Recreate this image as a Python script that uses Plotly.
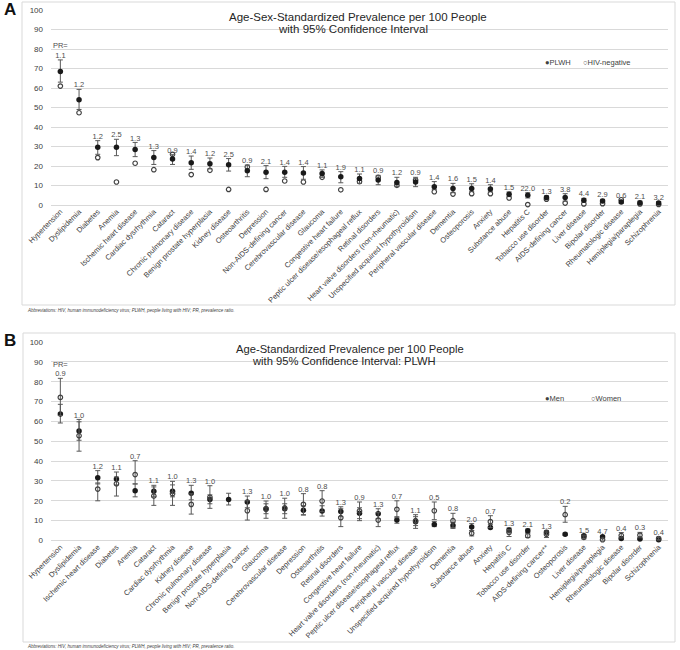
import plotly.graph_objects as go

# ---------------- Panel A data ----------------
catsA = ["Hypertension", "Dyslipidemia", "Diabetes", "Anemia", "Ischemic heart disease",
         "Cardiac dysrhythmia", "Cataract", "Chronic pulmonary disease",
         "Benign prostate hyperplasia", "Kidney disease", "Osteoarthritis", "Depression",
         "Non-AIDS-defining cancer", "Cerebrovascular disease", "Glaucoma",
         "Congestive heart failure", "Peptic ulcer disease/esophageal reflux",
         "Retinal disorders", "Heart valve disorders (non-rheumatic)",
         "Unspecified acquired hypothyroidism", "Peripheral vascular disease", "Dementia",
         "Osteoporosis", "Anxiety", "Substance abuse", "Hepatitis C", "Tobacco use disorder",
         "AIDS-defining cancer", "Liver disease", "Bipolar disorder", "Rheumatologic disease",
         "Hemiplegia/paraplegia", "Schizophrenia"]
plwhA = [68.5, 54.0, 29.6, 29.6, 28.4, 24.3, 23.6, 21.7, 21.2, 20.7, 17.6, 16.8, 16.8, 16.4,
         16.1, 14.5, 13.6, 12.8, 11.6, 11.8, 9.4, 8.5, 8.5, 8.2, 5.5, 5.0, 3.8, 3.8, 2.4, 2.0,
         1.6, 1.2, 1.0]
negA = [61.0, 47.3, 24.3, 11.8, 21.4, 18.1, 26.0, 15.6, 17.8, 8.0, 19.5, 8.0, 12.3, 11.8,
        14.2, 7.8, 12.0, 14.2, 10.1, 12.8, 6.8, 5.6, 5.8, 5.8, 3.6, 0.23, 3.0, 1.0, 0.55, 0.7,
        2.7, 0.57, 0.31]
loA = [63.0, 49.0, 26.0, 25.3, 24.8, 20.8, 20.8, 18.3, 18.5, 17.4, 14.5, 13.5, 14.2, 13.2,
       14.2, 11.4, 11.1, 10.4, 9.4, 9.4, 8.0, 6.3, 7.0, 6.8, 4.3, 3.6, 3.0, 2.0, 1.5, 1.2,
       0.9, 0.5, 0.4]
hiA = [74.4, 59.3, 33.0, 33.7, 32.1, 27.9, 25.8, 25.1, 24.1, 23.8, 20.5, 20.2, 19.8, 19.7,
       18.0, 17.1, 15.9, 15.2, 14.2, 14.2, 12.0, 11.1, 10.9, 10.4, 6.7, 6.3, 4.7, 5.8, 3.4,
       2.9, 2.4, 2.0, 1.7]
prA = ["PR=<br>1.1", "1.2", "1.2", "2.5", "1.3", "1.3", "0.9", "1.4", "1.2", "2.5", "0.9",
       "2.1", "1.4", "1.4", "1.1", "1.9", "1.1", "0.9", "1.2", "0.9", "1.4", "1.6", "1.5",
       "1.4", "1.5", "22.0", "1.3", "3.8", "4.4", "2.9", "0.6", "2.1", "3.2"]

# ---------------- Panel B data ----------------
catsB = ["Hypertension", "Dyslipidemia", "Ischemic heart disease", "Diabetes", "Anemia",
         "Cataract", "Cardiac dysrhythmia", "Kidney disease", "Chronic pulmonary disease",
         "Benign prostate hyperplasia", "Non-AIDS-defining cancer", "Glaucoma",
         "Cerebrovascular disease", "Depression", "Osteoarthritis", "Retinal disorders",
         "Congestive heart failure", "Heart valve disorders (non-rheumatic)",
         "Peptic ulcer disease/esophageal reflux", "Peripheral vascular disease",
         "Unspecified acquired hypothyroidism", "Dementia", "Substance abuse", "Anxiety",
         "Hepatitis C", "Tobacco use disorder", "AIDS-defining cancer**", "Osteoporosis",
         "Liver disease", "Hemiplegia/paraplegia", "Rheumatologic disease",
         "Bipolar disorder", "Schizophrenia"]
menB = [63.7, 55.2, 31.6, 31.0, 25.1, 24.8, 24.8, 23.8, 20.7, 20.7, 19.4, 16.0, 16.0, 15.2,
        14.9, 14.6, 13.7, 13.5, 10.3, 9.5, 8.1, 7.5, 6.8, 6.5, 5.3, 4.9, 4.1, 3.1, 2.4, 1.9,
        1.0, 0.8, 0.4]
womenB = [72.1, 52.8, 25.9, 28.6, 33.2, 22.4, 23.6, 18.2, 21.8, None, 15.0, 15.8, 16.4, 18.2,
          19.9, 11.5, 14.9, 10.3, 15.7, 10.0, 15.0, 10.0, 3.6, 9.5, 4.1, 2.4, 3.2, 13.0, 1.6,
          0.4, 2.5, 2.7, 1.0]
menLo = [59.2, 50.5, 28.5, 28.0, 22.0, 22.0, 22.0, 20.5, 18.5, 17.9, 16.5, 13.5, 13.5, 12.8,
         12.3, 12.0, 11.0, 11.0, 8.7, 7.5, 7.0, 6.1, 5.0, 6.0, 4.2, 4.0, 3.4, 2.5, 2.0, 1.5,
         0.7, 0.5, 0.2]
menHi = [68.6, 59.8, 35.2, 34.5, 28.5, 27.8, 28.0, 27.8, 23.0, 23.8, 22.4, 18.5, 18.5, 17.5,
         17.5, 17.0, 16.5, 16.0, 12.0, 12.0, 9.5, 9.0, 8.5, 8.0, 6.3, 5.8, 4.9, 3.7, 2.9, 2.3,
         1.3, 1.1, 0.6]
womenLo = [63.0, 45.0, 20.0, 22.4, 28.5, 17.7, 17.7, 13.3, 16.2, None, 10.3, 11.2, 11.2, 13.0,
           14.5, 7.0, 10.0, 7.0, 11.5, 6.1, 10.5, 6.5, 2.3, 6.5, 2.0, 1.5, 1.5, 9.2, 0.8, 0.0,
           1.3, 1.4, 0.4]
womenHi = [81.7, 61.0, 29.0, 32.0, 40.2, 27.0, 29.8, 23.5, 27.6, None, 20.0, 19.9, 21.3, 23.6,
           25.1, 16.0, 19.4, 14.0, 20.0, 13.0, 19.4, 13.7, 5.0, 12.5, 5.5, 3.5, 4.8, 17.2, 2.6,
           1.0, 4.0, 4.1, 1.7]
prB = ["PR=<br>0.9", "1.0", "1.2", "1.1", "0.7", "1.1", "1.0", "1.3", "1.0", "", "1.3", "1.0",
       "1.0", "0.8", "0.8", "1.3", "0.9", "1.3", "0.7", "1.1", "0.5", "0.8", "2.0", "0.7",
       "1.3", "2.1", "1.3", "0.2", "1.5", "4.7", "0.4", "0.3", "0.4"]

FONT = "Liberation Sans, Arial, sans-serif"
ERRC = "#595959"
GRID = "#d9d9d9"
TXT = "#4d4d4d"


def err(vals, lo, hi):
    plus = [None if v is None else h - v for v, h in zip(vals, hi)]
    minus = [None if v is None else v - l for v, l in zip(vals, lo)]
    return dict(type="data", symmetric=False, array=plus, arrayminus=minus,
                color=ERRC, thickness=1, width=2.5)


OPEN = dict(symbol="circle-open", size=4.5, color="#404040", line=dict(width=1.2))
FILLED = dict(symbol="circle", size=5.5, color="#1a1a1a")

fig = go.Figure()

# Panel A
fig.add_trace(go.Scatter(
    x=catsA, y=negA, mode="markers", name="HIV-negative", marker=OPEN,
    xaxis="x", yaxis="y", cliponaxis=False))
fig.add_trace(go.Scatter(
    x=catsA, y=plwhA, mode="markers", name="PLWH", marker=FILLED,
    error_y=err(plwhA, loA, hiA), xaxis="x", yaxis="y", cliponaxis=False))
fig.add_trace(go.Scatter(
    x=catsA, y=hiA, mode="text", text=prA, textposition="top center",
    textfont=dict(size=7.5, color=TXT, family=FONT),
    xaxis="x", yaxis="y", cliponaxis=False, hoverinfo="skip"))

# Panel B
topB = [max(a, b if b is not None else 0) for a, b in zip(menHi, womenHi)]
fig.add_trace(go.Scatter(
    x=catsB, y=menB, mode="markers", name="Men", marker=FILLED,
    error_y=err(menB, menLo, menHi), xaxis="x2", yaxis="y2", cliponaxis=False))
fig.add_trace(go.Scatter(
    x=catsB, y=womenB, mode="markers", name="Women", marker=OPEN,
    error_y=err(womenB, womenLo, womenHi), xaxis="x2", yaxis="y2", cliponaxis=False))
fig.add_trace(go.Scatter(
    x=catsB, y=topB, mode="text", text=prB, textposition="top center",
    textfont=dict(size=7.5, color=TXT, family=FONT),
    xaxis="x2", yaxis="y2", cliponaxis=False, hoverinfo="skip"))

W, H = 680, 650
xdom = [51 / W, 668 / W]


def py(px):
    return 1 - px / H


xax = dict(domain=xdom, type="category", range=[-0.5, 32.5], tickangle=-45,
           tickfont=dict(size=7.5, color="#404040", family=FONT), showgrid=False,
           showline=False, zeroline=False, ticks="", fixedrange=True)
yax = dict(range=[0, 100], dtick=10, showgrid=True, gridcolor=GRID, gridwidth=1,
           zeroline=True, zerolinecolor=GRID, zerolinewidth=1, showline=False, ticks="",
           tickfont=dict(size=8, color="#404040", family=FONT), ticklabelstandoff=7)

fig.update_layout(
    width=W, height=H, margin=dict(l=0, r=0, t=0, b=0, autoexpand=False),
    paper_bgcolor="white", plot_bgcolor="white",
    font=dict(family=FONT, color="#404040"),
    xaxis=dict(xax, anchor="y"),
    yaxis=dict(yax, domain=[py(205), py(10)], anchor="x"),
    xaxis2=dict(xax, anchor="y2"),
    yaxis2=dict(yax, domain=[py(540.5), py(342)], anchor="x2"),
    showlegend=False,
)

# Panel frames
fig.add_shape(type="rect", xref="paper", yref="paper", x0=22 / W, x1=675 / W,
              y0=py(305), y1=py(2), line=dict(color=GRID, width=1))
fig.add_shape(type="rect", xref="paper", yref="paper", x0=23 / W, x1=675 / W,
              y0=py(642), y1=py(333), line=dict(color=GRID, width=1))


def note(text, xpx, ypx, size, color="#404040", xanchor="left"):
    fig.add_annotation(text=text, xref="paper", yref="paper", x=xpx / W, y=py(ypx),
                       xanchor=xanchor, yanchor="middle", showarrow=False,
                       font=dict(size=size, color=color, family=FONT))


note("<b>A</b>", 2, 10, 17, "#111")
note("<b>B</b>", 2, 340, 17, "#111")

note("Age-Sex-Standardized Prevalence per 100 People", 358, 17, 11.5, "#262626", "center")
note("with 95% Confidence Interval", 353, 29, 11.5, "#262626", "center")
note("Age-Standardized Prevalence per 100 People", 350, 349, 11.2, "#262626", "center")
note("with 95% Confidence Interval: PLWH", 344, 361, 11.2, "#262626", "center")

# legends
note("\u25cfPLWH", 543, 62, 7.5)
note("\u25cbHIV-negative", 581, 62, 7.5)
note("\u25cfMen", 543, 398, 7.5)
note("\u25cbWomen", 589, 398, 7.5)

abbr = "<i>Abbreviations: HIV, human immunodeficiency virus; PLWH, people living with HIV; PR, prevalence ratio.</i>"
note(abbr, 25, 310, 4.5)
note(abbr, 25, 646, 4.5)

fig.write_html("out.html", config={"displayModeBar": False},
               post_script="document.body.style.margin='0px';")
